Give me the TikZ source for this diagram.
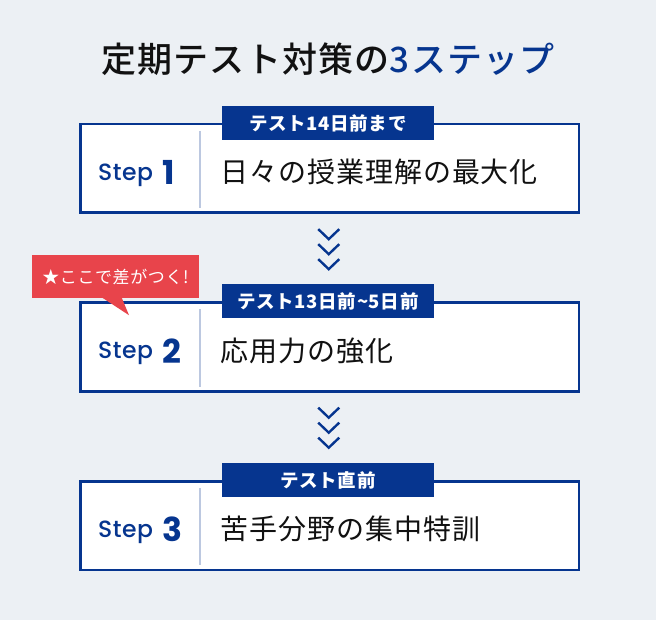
\documentclass[tikz,border=0pt]{standalone}
\usepackage{fontspec}
\usepackage{tikz}
\setmainfont{Noto Sans CJK JP}[LetterSpace=3.5]
\newfontfamily\jpmed{Noto Sans CJK JP Medium}[LetterSpace=3.5]
\newfontfamily\stepfont{Poppins}[UprightFont=* Medium, BoldFont=* Bold, LetterSpace=2]

\definecolor{navy}{HTML}{06358F}
\definecolor{bggrey}{HTML}{ECF0F4}
\definecolor{badgered}{HTML}{E8444B}
\definecolor{rulegrey}{HTML}{BCC8E0}
\definecolor{ink}{HTML}{111111}

\tikzset{
  stepbox/.style={draw=navy, line width=2.5pt, fill=white, minimum width=498.5pt, minimum height=88.5pt, inner sep=0pt},
  tagbox/.style={fill=navy, text=white, minimum width=212pt, minimum height=34pt, inner sep=0pt, font=\fontsize{18.5}{18.5}\selectfont\bfseries},
  steplabel/.style={anchor=base west, inner sep=0pt, text=navy, font=\stepfont\fontsize{23.5}{23.5}\selectfont},
  stepnum/.style={anchor=base west, inner sep=0pt, text=navy, font=\stepfont\bfseries\fontsize{33}{33}\selectfont},
  steptext/.style={anchor=west, inner sep=0pt, text=ink, font=\fontsize{28}{28}\selectfont},
  divider/.style={draw=rulegrey, line width=1.5pt},
  chev/.style={draw=navy, line width=2.4pt},
  badge/.style={fill=badgered, text=white, minimum width=167pt, minimum height=43pt, inner sep=0pt, font=\fontsize{17}{17}\selectfont}
}

\begin{document}
\begin{tikzpicture}[x=1pt,y=-1pt]
  \useasboundingbox[fill=bggrey] (0,0) rectangle (656,620);

  \node[inner sep=0pt, text=ink, font=\jpmed\fontsize{35}{35}\selectfont] (title) at (328,59)
    {定期テスト対策の\textcolor{navy}{3ステップ}};

  % step 1
  \node[stepbox] (box1) at (329.5,168.5) {};
  \node[tagbox] (tag1) at (328,123) {テスト14日前まで};
  \draw[divider] ([xshift=121pt,yshift=-8pt]box1.north west) -- ([xshift=121pt,yshift=6pt]box1.south west);
  \node[steplabel] (lab1) at ([shift={(19,12)}]box1.west) {Step};
  \node[stepnum] (num1) at ([shift={(83,16)}]box1.west) {1};
  \node[steptext] (txt1) at ([shift={(141,3.5)}]box1.west) {日々の授業理解の最大化};

  % step 2
  \node[stepbox] (box2) at (329.5,347) {};
  \node[tagbox] (tag2) at (328,301.5) {テスト13日前\textasciitilde5日前};
  \draw[divider] ([xshift=121pt,yshift=-8pt]box2.north west) -- ([xshift=121pt,yshift=6pt]box2.south west);
  \node[steplabel] (lab2) at ([shift={(19,12)}]box2.west) {Step};
  \node[stepnum] (num2) at ([shift={(83,16)}]box2.west) {2};
  \node[steptext] (txt2) at ([shift={(141,3.5)}]box2.west) {応用力の強化};

  % step 3
  \node[stepbox] (box3) at (329.5,525.5) {};
  \node[tagbox] (tag3) at (328,480) {テスト直前};
  \draw[divider] ([xshift=121pt,yshift=-8pt]box3.north west) -- ([xshift=121pt,yshift=6pt]box3.south west);
  \node[steplabel] (lab3) at ([shift={(19,12)}]box3.west) {Step};
  \node[stepnum] (num3) at ([shift={(83,16)}]box3.west) {3};
  \node[steptext] (txt3) at ([shift={(141,3.5)}]box3.west) {苦手分野の集中特訓};

  % chevrons between the steps
  \path (box1.south) -- (tag2.north) coordinate[midway] (gap1);
  \path (box2.south) -- (tag3.north) coordinate[midway] (gap2);
  \foreach \g in {gap1,gap2}
    \foreach \dy in {-15,0,15}
      \draw[chev] ([shift={(-10.5,\dy-5)}]\g) -- ([shift={(0,\dy+5)}]\g) -- ([shift={(10.5,\dy-5)}]\g);

  % badge
  \node[badge] (hint) at (115.5,276.5) {★ここで差がつく!};
  \fill[badgered] ([shift={(-14,-1)}]hint.south) -- ([shift={(6,-1)}]hint.south) -- ([shift={(13.5,17)}]hint.south) -- cycle;
\end{tikzpicture}
\end{document}
